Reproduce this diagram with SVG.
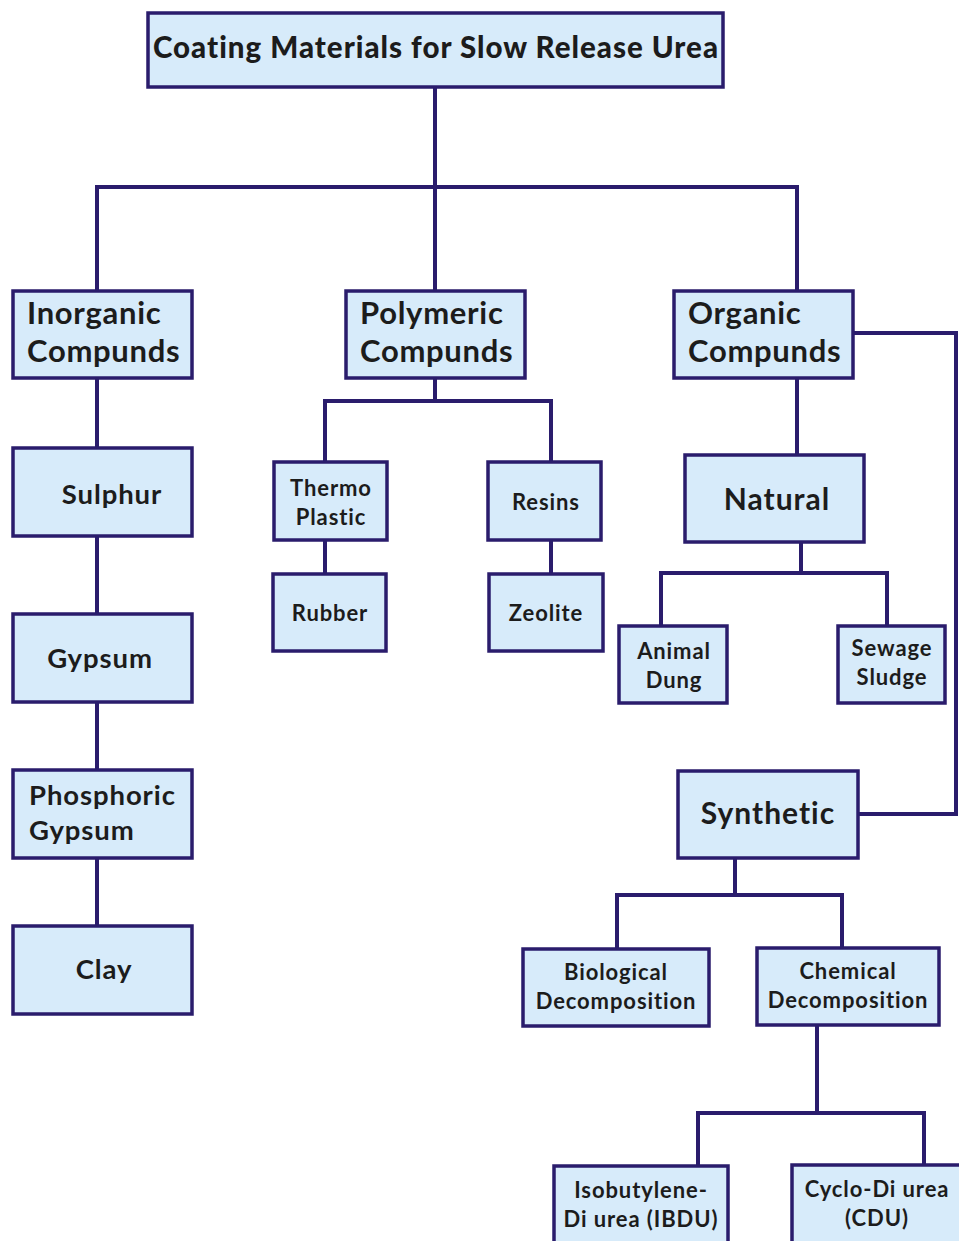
<svg xmlns="http://www.w3.org/2000/svg" width="959" height="1241" viewBox="0 0 959 1241">
<style>
.b{fill:#d7ebfa;stroke:#2a1c6c;stroke-width:3.5}
.c{fill:none;stroke:#2a1c6c;stroke-width:4;stroke-linejoin:miter}
text{font-family:Lato,"Open Sans","Liberation Sans",sans-serif;fill:#1c1c1c;font-weight:700}
.t{font-size:29.5px;font-weight:900;letter-spacing:1px}
.l{font-size:31px;letter-spacing:0.7px}
.m{font-size:27.5px;letter-spacing:0.9px}
.xl{font-size:30px;letter-spacing:1px}
.s{font-size:22px;letter-spacing:0.9px}
.ce{text-anchor:middle}
</style>
<rect width="959" height="1241" fill="#ffffff"/>
<g id="connectors">
<path class="c" d="M435,87V291M97,291V187H797V291"/>
<path class="c" d="M97,378V448M97,536V614M97,702V770M97,858V926"/>
<path class="c" d="M435,378V401M325,462V401H551V462M325,540V574M551,540V574"/>
<path class="c" d="M797,378V455M853,333H956V814H858"/>
<path class="c" d="M801,542V573M661,626V573H887V626"/>
<path class="c" d="M735,858V895M617,949V895H842V948"/>
<path class="c" d="M817,1025V1113M698,1166V1113H924V1165"/>
</g>
<g id="title"><rect class="b" x="148" y="13" width="575" height="74"/><text class="t ce" x="436" y="58">Coating Materials for Slow Release Urea</text></g>
<g id="inorganic"><rect class="b" x="13" y="291" width="179" height="87"/><text class="l" x="27" y="324">Inorganic</text><text class="l" x="27" y="362">Compunds</text></g>
<g id="polymeric"><rect class="b" x="346" y="291" width="179" height="87"/><text class="l" x="360" y="324">Polymeric</text><text class="l" x="360" y="362">Compunds</text></g>
<g id="organic"><rect class="b" x="674" y="291" width="179" height="87"/><text class="l" x="688" y="324">Organic</text><text class="l" x="688" y="362">Compunds</text></g>
<g id="sulphur"><rect class="b" x="13" y="448" width="179" height="88"/><text class="m ce" x="112" y="504">Sulphur</text></g>
<g id="gypsum"><rect class="b" x="13" y="614" width="179" height="88"/><text class="m ce" x="100" y="668">Gypsum</text></g>
<g id="phosphoric"><rect class="b" x="13" y="770" width="179" height="88"/><text class="m" x="29" y="805">Phosphoric</text><text class="m" x="29" y="840">Gypsum</text></g>
<g id="clay"><rect class="b" x="13" y="926" width="179" height="88"/><text class="m ce" x="104" y="979">Clay</text></g>
<g id="thermo"><rect class="b" x="274" y="462" width="113" height="78"/><text class="s ce" x="331" y="496">Thermo</text><text class="s ce" x="331" y="525">Plastic</text></g>
<g id="resins"><rect class="b" x="488" y="462" width="113" height="78"/><text class="s ce" x="546" y="510">Resins</text></g>
<g id="rubber"><rect class="b" x="273" y="574" width="113" height="77"/><text class="s ce" x="330" y="621">Rubber</text></g>
<g id="zeolite"><rect class="b" x="489" y="574" width="114" height="77"/><text class="s ce" x="546" y="621">Zeolite</text></g>
<g id="natural"><rect class="b" x="685" y="455" width="179" height="87"/><text class="xl ce" x="777" y="510">Natural</text></g>
<g id="animal"><rect class="b" x="619" y="626" width="108" height="77"/><text class="s ce" x="674" y="659">Animal</text><text class="s ce" x="674" y="688">Dung</text></g>
<g id="sewage"><rect class="b" x="838" y="626" width="107" height="77"/><text class="s ce" x="892" y="656">Sewage</text><text class="s ce" x="892" y="685">Sludge</text></g>
<g id="synthetic"><rect class="b" x="678" y="771" width="180" height="87"/><text class="xl ce" x="768" y="824">Synthetic</text></g>
<g id="biological"><rect class="b" x="523" y="949" width="186" height="77"/><text class="s ce" x="616" y="980">Biological</text><text class="s ce" x="616" y="1009">Decomposition</text></g>
<g id="chemical"><rect class="b" x="757" y="948" width="182" height="77"/><text class="s ce" x="848" y="979">Chemical</text><text class="s ce" x="848" y="1008">Decomposition</text></g>
<g id="ibdu"><rect class="b" x="554" y="1166" width="174" height="80"/><text class="s ce" x="641" y="1198">Isobutylene-</text><text class="s ce" x="641" y="1227">Di urea (IBDU)</text></g>
<g id="cdu"><rect class="b" x="792" y="1165" width="170" height="81"/><text class="s ce" x="877" y="1197">Cyclo-Di urea</text><text class="s ce" x="877" y="1226">(CDU)</text></g>
</svg>
